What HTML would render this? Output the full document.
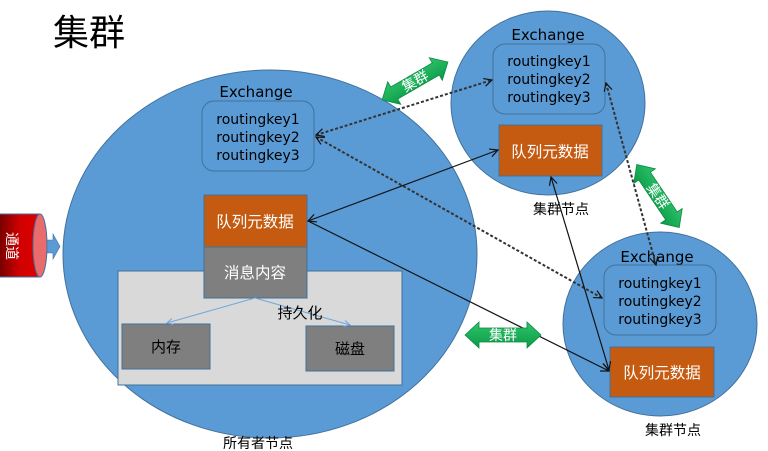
<!DOCTYPE html>
<html><head><meta charset="utf-8"><style>
html,body{margin:0;padding:0;background:#fff;width:768px;height:451px;overflow:hidden}
svg{display:block}
text{font-family:"DejaVu Sans","Noto Sans CJK SC",sans-serif}
</style></head><body>
<svg width="768" height="451" viewBox="0 0 768 451" xmlns="http://www.w3.org/2000/svg">
<defs>
<linearGradient id="cyl" x1="0" x2="1" y1="0" y2="0"><stop offset="0" stop-color="#7a0000"/><stop offset="0.5" stop-color="#d00000"/><stop offset="1" stop-color="#e00000"/></linearGradient>
<linearGradient id="grn" x1="0" x2="0" y1="0" y2="1"><stop offset="0" stop-color="#2fc46a"/><stop offset="1" stop-color="#0a9a48"/></linearGradient>
<marker id="ah" markerWidth="10" markerHeight="10" refX="9" refY="5" orient="auto" markerUnits="userSpaceOnUse"><path d="M1,1 L9,5 L1,9" fill="none" stroke="#111" stroke-width="1.2"/></marker>
<marker id="ahs" markerWidth="10" markerHeight="10" refX="1" refY="5" orient="auto" markerUnits="userSpaceOnUse"><path d="M9,1 L1,5 L9,9" fill="none" stroke="#111" stroke-width="1.2"/></marker>
<marker id="ab" markerWidth="8" markerHeight="8" refX="7" refY="4" orient="auto" markerUnits="userSpaceOnUse"><path d="M1,1 L7,4 L1,7" fill="none" stroke="#6fa8dc" stroke-width="1"/></marker>
<g id="dbl"><polygon points="-38,0 -24,-13 -24,-7 24,-7 24,-13 38,0 24,13 24,7 -24,7 -24,13" fill="url(#grn)" stroke="#0a8a40" stroke-width="0.8"/></g>
</defs>

<text x="53" y="45" font-size="36" fill="#000" font-family="Noto Sans CJK SC, sans-serif">集群</text>

<!-- circles -->
<ellipse cx="270" cy="254" rx="207" ry="184" fill="#5b9bd5" stroke="#41719c" stroke-width="1"/>
<ellipse cx="548" cy="103" rx="97" ry="92" fill="#5b9bd5" stroke="#41719c" stroke-width="1"/>
<ellipse cx="660" cy="324" rx="97" ry="92" fill="#5b9bd5" stroke="#41719c" stroke-width="1"/>

<!-- main node -->
<text x="256" y="97" font-size="15" text-anchor="middle" fill="#000">Exchange</text>
<rect x="202" y="101" width="112" height="70" rx="12" fill="#5b9bd5" stroke="#41719c"/>
<text x="258" y="124" font-size="14" text-anchor="middle">routingkey1</text>
<text x="258" y="142" font-size="14" text-anchor="middle">routingkey2</text>
<text x="258" y="160" font-size="14" text-anchor="middle">routingkey3</text>

<rect x="118" y="271" width="284" height="114" fill="#d9d9d9" stroke="#41719c"/>
<rect x="204" y="195" width="103" height="52" fill="#c55a11" stroke="#41719c"/>
<text x="255" y="227" font-size="15.5" fill="#fff" text-anchor="middle">队列元数据</text>
<rect x="204" y="247" width="103" height="51" fill="#7f7f7f" stroke="#41719c"/>
<text x="255" y="278" font-size="15.5" fill="#fff" text-anchor="middle">消息内容</text>
<rect x="122" y="324" width="88" height="45" fill="#7f7f7f" stroke="#41719c"/>
<text x="166" y="352" font-size="15" text-anchor="middle">内存</text>
<rect x="306" y="326" width="88" height="45" fill="#7f7f7f" stroke="#41719c"/>
<text x="350" y="354" font-size="15" text-anchor="middle">磁盘</text>
<line x1="255" y1="298" x2="167" y2="323" stroke="#6fa8dc" marker-end="url(#ab)"/>
<line x1="255" y1="298" x2="350" y2="325" stroke="#6fa8dc" marker-end="url(#ab)"/>
<text x="300" y="318" font-size="15" text-anchor="middle">持久化</text>
<text x="258" y="448" font-size="14" text-anchor="middle">所有者节点</text>

<!-- top-right node -->
<text x="548" y="40" font-size="15" text-anchor="middle">Exchange</text>
<rect x="493" y="44" width="112" height="70" rx="12" fill="#5b9bd5" stroke="#41719c"/>
<text x="549" y="66" font-size="14" text-anchor="middle">routingkey1</text>
<text x="549" y="84" font-size="14" text-anchor="middle">routingkey2</text>
<text x="549" y="102" font-size="14" text-anchor="middle">routingkey3</text>
<rect x="499" y="125" width="103" height="51" fill="#c55a11" stroke="#41719c"/>
<text x="550" y="157" font-size="15.5" fill="#fff" text-anchor="middle">队列元数据</text>
<text x="561" y="214" font-size="14" text-anchor="middle">集群节点</text>

<!-- bottom-right node -->
<text x="657" y="262" font-size="15" text-anchor="middle">Exchange</text>
<rect x="604" y="265" width="112" height="70" rx="12" fill="#5b9bd5" stroke="#41719c"/>
<text x="660" y="288" font-size="14" text-anchor="middle">routingkey1</text>
<text x="660" y="306" font-size="14" text-anchor="middle">routingkey2</text>
<text x="660" y="324" font-size="14" text-anchor="middle">routingkey3</text>
<rect x="610" y="347" width="104" height="50" fill="#c55a11" stroke="#41719c"/>
<text x="662" y="378" font-size="15.5" fill="#fff" text-anchor="middle">队列元数据</text>
<text x="673" y="435" font-size="14" text-anchor="middle">集群节点</text>

<!-- dashed connectors -->
<g stroke="#333" stroke-width="2" stroke-dasharray="3,2" fill="none">
<line x1="316" y1="135" x2="492" y2="80" marker-start="url(#ahs)" marker-end="url(#ah)"/>
<line x1="316" y1="137" x2="602" y2="298" marker-start="url(#ahs)" marker-end="url(#ah)"/>
<line x1="606" y1="83" x2="656" y2="265" marker-start="url(#ahs)" marker-end="url(#ah)"/>
</g>
<!-- solid connectors -->
<g stroke="#111" stroke-width="1.2" fill="none">
<line x1="308" y1="221" x2="498" y2="150" marker-start="url(#ahs)" marker-end="url(#ah)"/>
<line x1="308" y1="221" x2="609" y2="371" marker-end="url(#ah)"/>
<line x1="551" y1="177" x2="609" y2="370" marker-start="url(#ahs)" marker-end="url(#ah)"/>
</g>

<!-- green cluster arrows -->
<g transform="translate(415,81) rotate(-30)"><use href="#dbl"/><text x="0" y="5" font-size="14" fill="#fff" text-anchor="middle">集群</text></g>
<g transform="translate(658,196) rotate(56)"><use href="#dbl"/><text x="0" y="5" font-size="14" fill="#fff" text-anchor="middle">集群</text></g>
<g transform="translate(503,335)"><use href="#dbl"/><text x="0" y="5" font-size="14" fill="#fff" text-anchor="middle">集群</text></g>

<!-- channel cylinder -->
<path d="M0,214 L40,214 L40,277 L0,277 Z" fill="url(#cyl)"/>
<path d="M0,214 L40,214 M0,277 L40,277" stroke="#41719c"/>
<ellipse cx="40" cy="245.5" rx="7" ry="31.5" fill="#e96b6b" stroke="#41719c"/>
<text transform="translate(12,246) rotate(90)" font-size="14" fill="#fff" text-anchor="middle" y="5">通道</text>
<polygon points="47,240 53,240 53,234 60,246.5 53,259 53,253 47,253" fill="#5b9bd5" stroke="#41719c" stroke-width="0.6"/>
</svg>
</body></html>
